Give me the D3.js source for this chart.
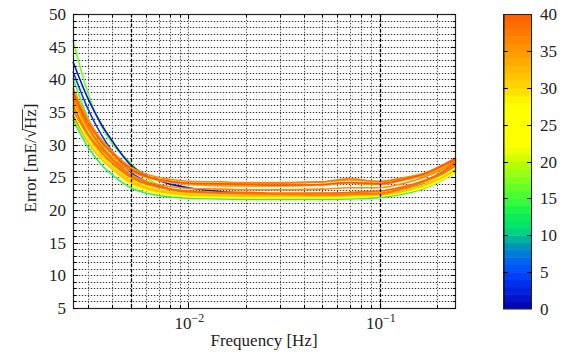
<!DOCTYPE html>
<html>
<head>
<meta charset="utf-8">
<script src="https://cdn.jsdelivr.net/npm/d3@7"></script>
<style>
  body { margin: 0; background: #fff; }
  text { font-family: "Liberation Serif", "DejaVu Serif", serif; fill: #222; }
</style>
</head>
<body>
<svg id="chart" width="567" height="354"></svg>
<script>
// frequencies where each error curve was read [Hz]
var freqs = [0.0025, 0.003, 0.0035, 0.004, 0.005, 0.006, 0.008, 0.01, 0.015, 0.02, 0.03, 0.05, 0.07, 0.1, 0.13, 0.17, 0.21, 0.25];

// colour value of each curve (colour bar 0..40)
var curveValues = [17, 2, 4, 15, 14, 5, 25, 22, 27, 29, 31, 32, 28, 33, 34, 35, 36, 36, 37, 38, 39, 40];

// error curves [mE/sqrt(Hz)], one row per curve
var curveErrors = [
  [46.0, 37.8, 33.0, 30.2, 27.2, 25.0, 23.2, 22.6, 22.2, 22.0, 21.9, 21.9, 22.0, 22.3, 22.9, 23.9, 25.0, 26.3],
  [42.7, 37.0, 33.2, 30.6, 26.9, 25.3, 24.0, 23.4, 22.8, 22.6, 22.4, 22.3, 22.4, 22.6, 23.1, 24.2, 25.4, 26.8],
  [41.2, 35.4, 31.6, 29.0, 25.8, 24.4, 23.2, 22.7, 22.3, 22.2, 22.1, 22.1, 22.2, 22.5, 23.0, 24.0, 25.3, 26.6],
  [40.2, 34.0, 30.3, 27.9, 24.9, 23.6, 22.5, 22.1, 21.9, 21.8, 21.8, 21.8, 21.9, 22.2, 22.8, 23.8, 25.0, 26.3],
  [33.8, 29.6, 27.0, 25.4, 23.4, 22.6, 22.0, 21.8, 21.7, 21.6, 21.6, 21.6, 21.7, 21.9, 22.4, 23.3, 24.5, 25.8],
  [34.5, 30.4, 28.0, 26.4, 24.4, 23.5, 22.8, 22.5, 22.3, 22.2, 22.2, 22.2, 22.3, 22.5, 23.0, 24.0, 25.2, 26.5],
  [35.0, 30.6, 27.9, 26.2, 23.9, 23.0, 22.3, 22.0, 21.9, 21.8, 21.8, 21.8, 21.9, 22.1, 22.6, 23.4, 24.6, 25.8],
  [35.8, 31.1, 28.3, 26.5, 24.2, 23.2, 22.5, 22.2, 22.0, 21.9, 21.9, 21.9, 22.0, 22.2, 22.7, 23.6, 24.7, 26.0],
  [36.4, 31.6, 28.6, 26.8, 24.4, 23.3, 22.5, 22.2, 22.0, 21.9, 21.9, 21.9, 22.0, 22.2, 22.7, 23.6, 24.8, 26.0],
  [37.2, 32.3, 29.3, 27.3, 24.8, 23.7, 22.8, 22.5, 22.3, 22.2, 22.2, 22.2, 22.3, 22.5, 23.0, 23.9, 25.0, 26.4],
  [35.6, 31.2, 28.5, 26.8, 24.5, 23.5, 22.8, 22.5, 22.3, 22.2, 22.2, 22.2, 22.3, 22.4, 22.9, 23.8, 25.0, 26.3],
  [34.2, 30.3, 27.8, 26.3, 24.2, 23.3, 22.6, 22.3, 22.2, 22.1, 22.1, 22.1, 22.2, 22.3, 22.8, 23.8, 24.9, 26.2],
  [36.6, 32.0, 29.2, 27.3, 25.0, 24.0, 23.2, 22.8, 22.6, 22.5, 22.5, 22.5, 22.6, 22.8, 23.3, 24.2, 25.2, 26.6],
  [38.3, 33.5, 30.6, 28.7, 26.3, 25.2, 24.3, 24.0, 23.8, 23.7, 23.7, 23.9, 24.2, 24.1, 24.6, 25.3, 26.3, 27.4],
  [36.8, 32.5, 29.9, 28.2, 26.0, 25.0, 24.2, 23.9, 23.7, 23.7, 23.7, 23.8, 24.1, 23.9, 24.5, 25.3, 26.2, 27.5],
  [37.4, 32.6, 29.6, 27.6, 25.2, 24.1, 23.2, 22.8, 22.6, 22.5, 22.4, 22.5, 22.6, 22.6, 23.3, 24.3, 25.5, 27.0],
  [38.7, 33.8, 30.9, 29.0, 26.6, 25.5, 24.7, 24.4, 24.3, 24.2, 24.2, 24.3, 24.6, 24.4, 24.9, 25.6, 26.6, 27.8],
  [37.0, 32.4, 29.6, 27.8, 25.5, 24.4, 23.6, 23.3, 23.2, 23.1, 23.1, 23.2, 23.4, 23.4, 24.0, 25.0, 26.2, 27.6],
  [35.2, 31.5, 29.3, 27.8, 26.0, 25.1, 24.4, 24.1, 24.0, 24.0, 24.1, 24.3, 24.8, 24.3, 24.8, 25.6, 26.8, 28.0],
  [37.8, 32.8, 29.8, 27.8, 25.3, 24.2, 23.2, 22.8, 22.6, 22.5, 22.4, 22.3, 22.4, 22.5, 23.2, 24.4, 25.6, 27.2],
  [36.0, 31.6, 28.9, 27.2, 25.0, 24.0, 23.2, 22.9, 22.7, 22.7, 22.6, 22.6, 22.7, 22.9, 23.5, 24.5, 25.8, 27.5],
  [38.0, 33.3, 30.5, 28.7, 26.3, 25.2, 24.4, 24.1, 24.0, 23.9, 23.8, 23.9, 24.2, 24.0, 24.6, 25.5, 26.7, 27.9]
];

// colour map stops (value -> colour), jet-like
var cmapStops = [0, 3, 5, 7, 8, 9, 10, 11, 13, 15, 17, 19, 20, 21, 22, 28, 29, 30, 32, 33, 35, 37, 39, 40];
var cmapColors = ["#0000a8", "#0028e8", "#0048ff", "#0070e8", "#0088c8", "#00a0a8", "#00c890", "#00e070",
                  "#10f050", "#40ff38", "#70ff20", "#a8ff10", "#c0ff00", "#e0ff00", "#ffff00", "#ffff00",
                  "#ffe800", "#ffd800", "#ffc000", "#ffb000", "#ff9800", "#ff8000", "#ff6800", "#ff5800"];

var yTicks = [5, 10, 15, 20, 25, 30, 35, 40, 45, 50];
var xTicks = [0.01, 0.1];
var xTickExps = ["\u22122", "\u22121"];
var cbTicks = [0, 5, 10, 15, 20, 25, 30, 35, 40];
var markFreqs = [0.005, 0.1];

var svg = d3.select("#chart");
var pLeft = 73, pRight = 456, pTop = 14, pBottom = 308;

var x = d3.scaleLog().domain([0.0025, 0.25]).range([pLeft, pRight]);
var y = d3.scaleLinear().domain([5, 50]).range([pBottom, pTop]);
var color = d3.scaleLinear().domain(cmapStops).range(cmapColors);

// grid
var grid = svg.append("g");
var yMinor = d3.range(5, 51, 1);
var xMinor = [];
[0.001, 0.01, 0.1].forEach(function (d) {
    for (var k = 1; k < 10; k++) {
        var v = +(d * k).toPrecision(6);
        if (v >= 0.0025 && v <= 0.25) xMinor.push(v);
    }
});
grid.selectAll(".hg").data(yMinor).enter().append("line")
    .attr("x1", pLeft).attr("x2", pRight)
    .attr("y1", function (d) { return Math.round(y(d)) + 0.5; })
    .attr("y2", function (d) { return Math.round(y(d)) + 0.5; })
    .attr("stroke", "#d8d8d8");
grid.selectAll(".vg").data(xMinor).enter().append("line")
    .attr("y1", pTop).attr("y2", pBottom)
    .attr("x1", function (d) { return Math.round(x(d)) + 0.5; })
    .attr("x2", function (d) { return Math.round(x(d)) + 0.5; })
    .attr("stroke", "#d8d8d8");
grid.selectAll(".hd").data(yMinor).enter().append("line")
    .attr("x1", pLeft).attr("x2", pRight)
    .attr("y1", function (d) { return Math.round(y(d)) + 0.5; })
    .attr("y2", function (d) { return Math.round(y(d)) + 0.5; })
    .attr("stroke", "#333").attr("stroke-dasharray", "1,2");
grid.selectAll(".vd").data(xMinor).enter().append("line")
    .attr("y1", pTop).attr("y2", pBottom)
    .attr("x1", function (d) { return Math.round(x(d)) + 0.5; })
    .attr("x2", function (d) { return Math.round(x(d)) + 0.5; })
    .attr("stroke", "#555").attr("stroke-dasharray", "1,2");

// curves
var line = d3.line()
    .x(function (d, i) { return x(freqs[i]); })
    .y(function (d) { return y(d); })
    .curve(d3.curveMonotoneX);

svg.append("g").selectAll("path").data(curveErrors).enter().append("path")
    .attr("d", line)
    .attr("fill", "none")
    .attr("stroke", function (d, i) { return color(curveValues[i]); })
    .attr("stroke-width", 1.6);

// dashed markers
svg.append("g").selectAll("line").data(markFreqs).enter().append("line")
    .attr("x1", function (d) { return Math.round(x(d)) + 0.5; })
    .attr("x2", function (d) { return Math.round(x(d)) + 0.5; })
    .attr("y1", pTop).attr("y2", pBottom)
    .attr("stroke", "#000").attr("stroke-width", 1.3).attr("stroke-dasharray", "3,2");

// frame + ticks
var axes = svg.append("g");
axes.append("rect").attr("x", pLeft + 0.5).attr("y", pTop + 0.5)
    .attr("width", pRight - pLeft - 1).attr("height", pBottom - pTop)
    .attr("fill", "none").attr("stroke", "#222").attr("stroke-width", 1.2);

yMinor.forEach(function (d) {
    var len = d % 5 === 0 ? 5 : 3;
    var yy = Math.round(y(d)) + 0.5;
    axes.append("line").attr("x1", pLeft).attr("x2", pLeft + len).attr("y1", yy).attr("y2", yy).attr("stroke", "#000");
    axes.append("line").attr("x1", pRight - len).attr("x2", pRight).attr("y1", yy).attr("y2", yy).attr("stroke", "#000");
});
xMinor.forEach(function (d) {
    var major = xTicks.indexOf(d) >= 0;
    var len = major ? 5 : 3;
    var xx = Math.round(x(d)) + 0.5;
    axes.append("line").attr("y1", pBottom).attr("y2", pBottom - len).attr("x1", xx).attr("x2", xx).attr("stroke", "#000");
    axes.append("line").attr("y1", pTop).attr("y2", pTop + len).attr("x1", xx).attr("x2", xx).attr("stroke", "#000");
});

axes.selectAll(".yl").data(yTicks).enter().append("text")
    .attr("x", 66).attr("y", function (d) { return y(d) + 6; })
    .attr("text-anchor", "end").attr("font-size", 17)
    .text(function (d) { return d; });

var xl = axes.selectAll(".xl").data(xTicks).enter().append("text")
    .attr("x", function (d) { return x(d) + 1; }).attr("y", 329)
    .attr("text-anchor", "middle").attr("font-size", 17);
xl.append("tspan").text("10");
xl.append("tspan").attr("dy", -7).attr("font-size", 12).text(function (d, i) { return xTickExps[i]; });

axes.append("text").attr("x", 264).attr("y", 346).attr("text-anchor", "middle")
    .attr("font-size", 17).text("Frequency [Hz]");

// y label with sqrt overline
var yl = axes.append("g").attr("transform", "translate(36,158) rotate(-90)");
var ylt = yl.append("text").attr("text-anchor", "middle").attr("font-size", 17);
ylt.append("tspan").text("Error [mE/\u221A");
ylt.append("tspan").text("Hz");
ylt.append("tspan").text("]");
var node = ylt.node();
var full = node.getComputedTextLength();
var s0 = node.getSubStringLength(0, 11);
var hz = node.getSubStringLength(11, 2);
yl.append("line")
    .attr("x1", -full / 2 + s0 - 1).attr("x2", -full / 2 + s0 + hz)
    .attr("y1", -13.5).attr("y2", -13.5)
    .attr("stroke", "#222").attr("stroke-width", 0.9);

// colour bar
var cbX = 503, cbW = 29;
var cy = d3.scaleLinear().domain([0, 40]).range([309, 14]);
var cb = svg.append("g");
cb.selectAll("rect").data(d3.range(0, 40)).enter().append("rect")
    .attr("x", cbX).attr("width", cbW)
    .attr("y", function (d) { return cy(d + 1); })
    .attr("height", function (d) { return cy(d) - cy(d + 1) + 0.5; })
    .attr("fill", function (d) { return color(d + 0.5); });
cb.append("rect").attr("x", cbX).attr("y", 14).attr("width", 2).attr("height", 295)
    .attr("fill", "#000").attr("opacity", 0.45);
cb.append("rect").attr("x", cbX + 0.5).attr("y", 14.5).attr("width", cbW - 1).attr("height", 294)
    .attr("fill", "none").attr("stroke", "#222").attr("stroke-width", 1);
cbTicks.slice(1, -1).forEach(function (d) {
    var yy = Math.round(cy(d)) + 0.5;
    cb.append("line").attr("x1", cbX).attr("x2", cbX + 5).attr("y1", yy).attr("y2", yy).attr("stroke", "#000");
    cb.append("line").attr("x1", cbX + cbW - 5).attr("x2", cbX + cbW).attr("y1", yy).attr("y2", yy).attr("stroke", "#000");
});
cb.selectAll("text").data(cbTicks).enter().append("text")
    .attr("x", 540).attr("y", function (d) { return cy(d) + 6; })
    .attr("font-size", 17).text(function (d) { return d; });
</script>
</body>
</html>
